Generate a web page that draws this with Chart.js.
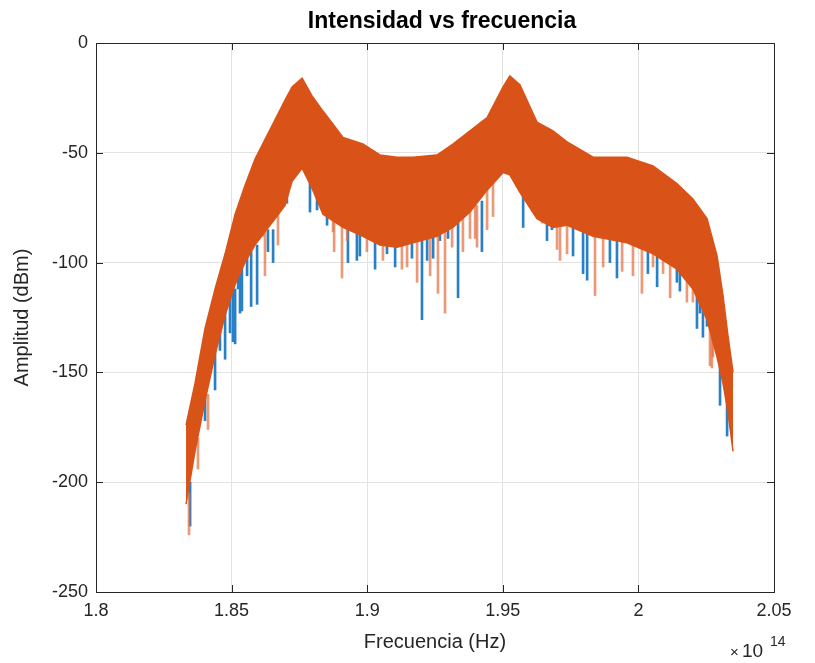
<!DOCTYPE html>
<html>
<head>
<meta charset="utf-8">
<script src="https://cdn.jsdelivr.net/npm/chart.js@4/dist/chart.umd.min.js"></script>
<style>
  html, body { margin: 0; padding: 0; background: #fff; }
  #wrap { width: 815px; height: 663px; }
</style>
</head>
<body>
<div id="wrap"><canvas id="grafico" width="815" height="663"></canvas></div>
<script>
// Frecuencia en unidades de 1e14 Hz
var frecuencia = [1.8332, 1.8365, 1.8402, 1.8439, 1.8476, 1.8513, 1.8549, 1.8586, 1.8623, 1.8660,
    1.8697, 1.8723, 1.8760, 1.8796, 1.8837, 1.8911, 1.8984, 1.9047, 1.9110, 1.9169,
    1.9257, 1.9316, 1.9379, 1.9442, 1.9501, 1.9526, 1.9563, 1.9626, 1.9685, 1.9737,
    1.9833, 1.9958, 2.0054, 2.0142, 2.0201, 2.0253, 2.0290, 2.0312, 2.0330, 2.0349];

// Envolvente superior e inferior de la banda (dBm)
var ampMax = [-174, -155, -130, -112, -96, -78, -65, -53, -44, -35,
    -26, -20, -16, -24, -31, -43, -46, -51, -52, -52,
    -51, -46, -40, -34, -20, -15, -19, -36, -40, -45,
    -52, -52, -56, -64, -71, -80, -97, -115, -133, -150];
var ampMin = [-210, -186, -163, -142, -124, -110, -100, -92, -86, -80,
    -74, -63, -57, -66, -78, -84, -88, -92, -93, -91,
    -88, -84, -77, -67, -59, -60, -68, -80, -84, -83,
    -88, -91, -96, -103, -112, -126, -143, -155, -168, -186];

// Picos hacia abajo, serie 1 (azul): frecuencia, minimo y maximo
var picosAzulF = [1.8347, 1.8402, 1.8439, 1.8457, 1.8476, 1.8494, 1.8505, 1.8513, 1.8524, 1.8531,
    1.8538, 1.8557, 1.8572, 1.8594, 1.8634, 1.8653, 1.8678, 1.8704, 1.8789, 1.8815,
    1.8852, 1.8929, 1.8962, 1.8973, 1.9029, 1.9073, 1.9103, 1.9165, 1.9202, 1.9221,
    1.9243, 1.9268, 1.9298, 1.9335, 1.9423, 1.9575, 1.9589, 1.9663, 1.9681, 1.9693,
    1.9759, 1.9796, 1.9811, 1.9895, 1.9921, 2.0035, 2.0069, 2.0142, 2.0153, 2.0216,
    2.0227, 2.0238, 2.0253, 2.0301, 2.0327];
var picosAzulMin = [-220, -172, -158, -140, -144, -132, -136, -137, -112, -123,
    -122, -106, -120, -119, -95, -100, -75, -73, -77, -76,
    -83, -100, -99, -97, -103, -96, -102, -98, -126, -99,
    -98, -90, -89, -116, -95, -84, -70, -90, -85, -80,
    -97, -105, -108, -100, -107, -105, -111, -109, -113, -130,
    -123, -134, -129, -165, -179];
var picosAzulMax = [-200, -160, -140, -125, -120, -115, -112, -112, -100, -100,
    -100, -95, -95, -92, -85, -85, -65, -62, -60, -60,
    -72, -80, -82, -85, -88, -88, -88, -88, -88, -86,
    -86, -84, -82, -80, -72, -62, -62, -78, -78, -75,
    -82, -85, -85, -88, -88, -92, -94, -100, -100, -110,
    -110, -115, -118, -140, -160];

// Picos hacia abajo, serie 2 (naranja): frecuencia, minimo y maximo
var picosNaranjaF = [1.8343, 1.8376, 1.8413, 1.8616, 1.8623, 1.8671, 1.8874, 1.8878, 1.8907, 1.8926,
    1.8999, 1.9058, 1.9128, 1.9147, 1.9184, 1.9232, 1.9261, 1.9287, 1.9313, 1.9353,
    1.9379, 1.9398, 1.9405, 1.9442, 1.9464, 1.9611, 1.9645, 1.9700, 1.9711, 1.9737,
    1.9840, 1.9870, 1.9940, 1.9980, 2.0013, 2.0054, 2.0091, 2.0117, 2.0179, 2.0201,
    2.0264, 2.0271, 2.0275];
var picosNaranjaMin = [-224, -194, -176, -88, -106, -92, -86, -95, -107, -90,
    -95, -99, -103, -102, -109, -106, -114, -123, -93, -95,
    -89, -89, -93, -85, -79, -77, -82, -94, -99, -96,
    -115, -102, -104, -106, -114, -102, -105, -116, -118, -118,
    -147, -148, -143];
var picosNaranjaMax = [-205, -180, -160, -80, -84, -76, -76, -76, -80, -80,
    -86, -88, -88, -88, -88, -88, -88, -86, -84, -80,
    -76, -74, -74, -65, -60, -66, -72, -80, -80, -82,
    -86, -88, -89, -90, -91, -94, -96, -98, -104, -108,
    -120, -122, -122];

// Etiquetas
var titulo = 'Intensidad vs frecuencia';
var tituloX = 'Frecuencia (Hz)';
var tituloY = 'Amplitud (dBm)';
var exponenteX = '14';

var naranja = '#D95319';
var texto = '#262626';
var fuente = '"Liberation Sans", Arial, sans-serif';

function puntos(xs, ys) {
    return xs.map(function (x, i) { return { x: x, y: ys[i] }; });
}

function barras(xs, bajos, altos) {
    return xs.map(function (x, i) { return { x: x, y: [bajos[i], altos[i]] }; });
}

// Caja, marcas interiores, titulo y exponente del eje X
var marcoMatlab = {
    id: 'marcoMatlab',
    afterDraw: function (chart) {
        var ctx = chart.ctx;
        var a = chart.chartArea;
        var sx = chart.scales.x, sy = chart.scales.y;
        ctx.save();
        ctx.strokeStyle = texto;
        ctx.lineWidth = 1;
        ctx.beginPath();
        sx.ticks.forEach(function (t) {
            var px = Math.round(sx.getPixelForValue(t.value)) + 0.5;
            ctx.moveTo(px, a.top); ctx.lineTo(px, a.top + 7);
            ctx.moveTo(px, a.bottom); ctx.lineTo(px, a.bottom - 7);
        });
        sy.ticks.forEach(function (t) {
            var py = Math.round(sy.getPixelForValue(t.value)) + 0.5;
            ctx.moveTo(a.left, py); ctx.lineTo(a.left + 7, py);
            ctx.moveTo(a.right, py); ctx.lineTo(a.right - 7, py);
        });
        ctx.stroke();
        ctx.strokeRect(Math.round(a.left) + 0.5, Math.round(a.top) + 0.5,
            Math.round(a.right - a.left), Math.round(a.bottom - a.top));

        ctx.fillStyle = '#000';
        ctx.font = 'bold 23px ' + fuente;
        ctx.textAlign = 'center';
        ctx.textBaseline = 'middle';
        ctx.fillText(titulo, 442, 22);

        ctx.fillStyle = texto;
        ctx.textAlign = 'left';
        ctx.font = '15px ' + fuente;
        ctx.fillText('\u00d7', 730, 653);
        ctx.font = '19px ' + fuente;
        ctx.fillText('10', 742, 652);
        ctx.font = '14px ' + fuente;
        ctx.fillText(exponenteX, 770, 642);
        ctx.restore();
    }
};

var ctx = document.getElementById('grafico').getContext('2d');
var grafico = new Chart(ctx, {
    type: 'line',
    data: {
        datasets: [
            {
                data: puntos(frecuencia, ampMax),
                borderColor: naranja,
                backgroundColor: naranja,
                borderWidth: 1.5,
                pointRadius: 0,
                tension: 0,
                fill: '+1',
                order: 2
            },
            {
                data: puntos(frecuencia, ampMin),
                borderColor: naranja,
                borderWidth: 1.5,
                pointRadius: 0,
                tension: 0,
                fill: false,
                order: 2
            },
            {
                type: 'bar',
                data: barras(picosNaranjaF, picosNaranjaMin, picosNaranjaMax),
                backgroundColor: 'rgba(226, 110, 62, 0.7)',
                barThickness: 2,
                grouped: false,
                order: 3
            },
            {
                type: 'bar',
                data: barras(picosAzulF, picosAzulMin, picosAzulMax),
                backgroundColor: '#2a80c6',
                barThickness: 2,
                grouped: false,
                order: 4
            }
        ]
    },
    options: {
        responsive: false,
        animation: false,
        layout: { padding: { top: 43, right: 41, bottom: 0, left: 0 } },
        plugins: {
            legend: { display: false },
            tooltip: { enabled: false },
            title: { display: false }
        },
        scales: {
            x: {
                type: 'linear',
                min: 1.8,
                max: 2.05,
                offset: false,
                grid: { color: '#E3E3E3', drawTicks: false, offset: false },
                border: { display: false },
                ticks: {
                    stepSize: 0.05,
                    padding: 8,
                    color: texto,
                    font: { family: fuente, size: 18 },
                    maxRotation: 0,
                    callback: function (v) { return String(Number(v.toFixed(2))); }
                },
                title: {
                    display: true,
                    text: tituloX,
                    color: texto,
                    font: { family: fuente, size: 20 },
                    padding: { top: 0, bottom: 9 }
                },
                afterFit: function (scale) { scale.height = 71; }
            },
            y: {
                min: -250,
                max: 0,
                grid: { color: '#E3E3E3', drawTicks: false },
                border: { display: false },
                ticks: {
                    stepSize: 50,
                    padding: 8,
                    color: texto,
                    font: { family: fuente, size: 18 }
                },
                title: {
                    display: true,
                    text: tituloY,
                    color: texto,
                    font: { family: fuente, size: 20 },
                    padding: { top: 10, bottom: 0 }
                },
                afterFit: function (scale) { scale.width = 96; }
            }
        }
    },
    plugins: [marcoMatlab]
});
</script>
</body>
</html>
